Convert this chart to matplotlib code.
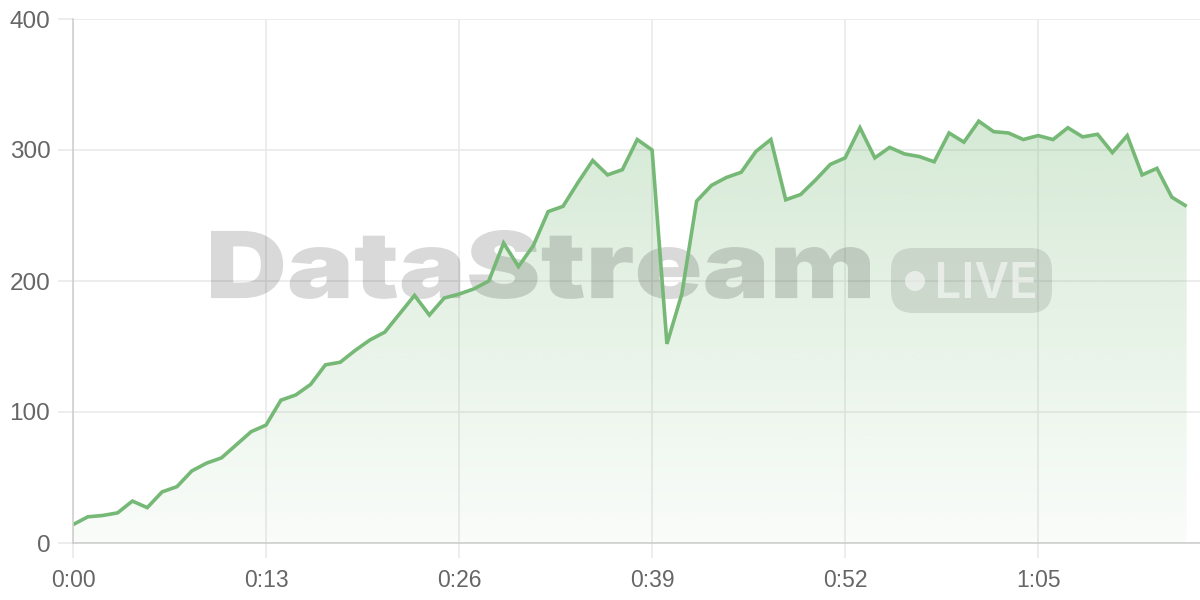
import matplotlib
matplotlib.use('Agg')
import matplotlib.pyplot as plt
import numpy as np
from matplotlib.patches import FancyBboxPatch, Circle, PathPatch
from matplotlib.colors import to_rgb
from matplotlib.transforms import IdentityTransform, Affine2D
from matplotlib.textpath import TextPath
from matplotlib.font_manager import FontProperties

# ---- data ----
seconds = list(range(76))
values = [14, 20, 21, 23, 32, 27, 39, 43, 55, 61,
          65, 75, 85, 90, 109, 113, 121, 136, 138, 147,
          155, 161, 175, 189, 174, 187, 190, 194, 200, 229,
          211, 227, 253, 257, 275, 292, 281, 285, 308, 300,
          152, 190, 261, 273, 279, 283, 299, 308, 262, 266,
          277, 289, 294, 317, 294, 302, 297, 295, 291, 313,
          306, 322, 314, 313, 308, 311, 308, 317, 310, 312,
          298, 311, 281, 286, 264, 257]
x_tick_secs = [0, 13, 26, 39, 52, 65]
x_tick_labels = ['0:00', '0:13', '0:26', '0:39', '0:52', '1:05']
y_ticks = [0, 100, 200, 300, 400]
watermark = 'DataStream'
badge = 'LIVE'

# ---- style ----
W, H = 1200, 600
line_color = '#76b876'
grid_color = '#e8e8e8'
spine_color = '#cccccc'
label_color = '#666666'
plt.rcParams['font.family'] = ['Liberation Sans', 'DejaVu Sans']

fig = plt.figure(figsize=(W / 100, H / 100), dpi=100)
ax = fig.add_axes([73 / W, 57 / H, (W - 73) / W, (543 - 19) / H])

# gradient fill under the line
poly = ax.fill_between(seconds, values, 0, color='none', lw=0)
grad = np.linspace(0.04, 0.30, 256)[:, None]
rgba = np.zeros((256, 1, 4))
rgba[..., :3] = to_rgb(line_color)
rgba[..., 3] = grad
im = ax.imshow(rgba, extent=[seconds[0], seconds[-1], 0, max(values)],
               origin='lower', aspect='auto', zorder=1, interpolation='bilinear')
im.set_clip_path(poly.get_paths()[0], transform=ax.transData)

ax.plot(seconds, values, color=line_color, lw=2.6, zorder=4,
        solid_joinstyle='miter', solid_capstyle='butt')

ax.set_xlim(0, 75.9)
ax.set_ylim(0, 400)
ax.set_xticks(x_tick_secs)
ax.set_xticklabels(x_tick_labels)
ax.set_yticks(y_ticks)
ax.grid(True, color=grid_color, lw=1.1, zorder=0)
ax.set_axisbelow(True)
for s in ['top', 'right']:
    ax.spines[s].set_visible(False)
for s in ['left', 'bottom']:
    ax.spines[s].set_color(spine_color)
    ax.spines[s].set_linewidth(1.1)
    ax.spines[s].set_zorder(5)
ax.tick_params(axis='both', length=10.8, width=1.1, color=grid_color,
               labelcolor=label_color)
ax.tick_params(axis='y', pad=5.5, labelsize=17.5)
ax.tick_params(axis='x', pad=8, labelsize=16.5)

# ---- watermark (text paths fitted to the boxes seen in the reference) ----
ident = IdentityTransform()


def fitted_text(s, box, family, weight, color):
    x0, y0, w, h = box  # display pixels, y from bottom
    tp = TextPath((0, 0), s, size=100,
                  prop=FontProperties(family=family, weight=weight))
    ext = tp.get_extents()
    tr = (Affine2D().translate(-ext.x0, -ext.y0)
          .scale(w / ext.width, h / ext.height).translate(x0, y0))
    p = PathPatch(tr.transform_path(tp), transform=ident,
                  facecolor=color, edgecolor='none', zorder=3)
    ax.add_artist(p)


fitted_text(watermark, (211, 600 - 299, 659, 69), 'Inter', 900, (0, 0, 0, 0.15))

pill = FancyBboxPatch((891, 287), 161, 65,
                      boxstyle='round,pad=0,rounding_size=22',
                      transform=ident, facecolor=(0, 0, 0, 0.10),
                      edgecolor='none', zorder=3)
ax.add_artist(pill)
dot = Circle((915, 319), 10, transform=ident,
             facecolor=(1, 1, 1, 0.55), edgecolor='none', zorder=3)
ax.add_artist(dot)
fitted_text(badge, (938, 600 - 298, 97, 36), 'Inter', 600, (1, 1, 1, 0.55))

fig.savefig('out.png', dpi=100)
